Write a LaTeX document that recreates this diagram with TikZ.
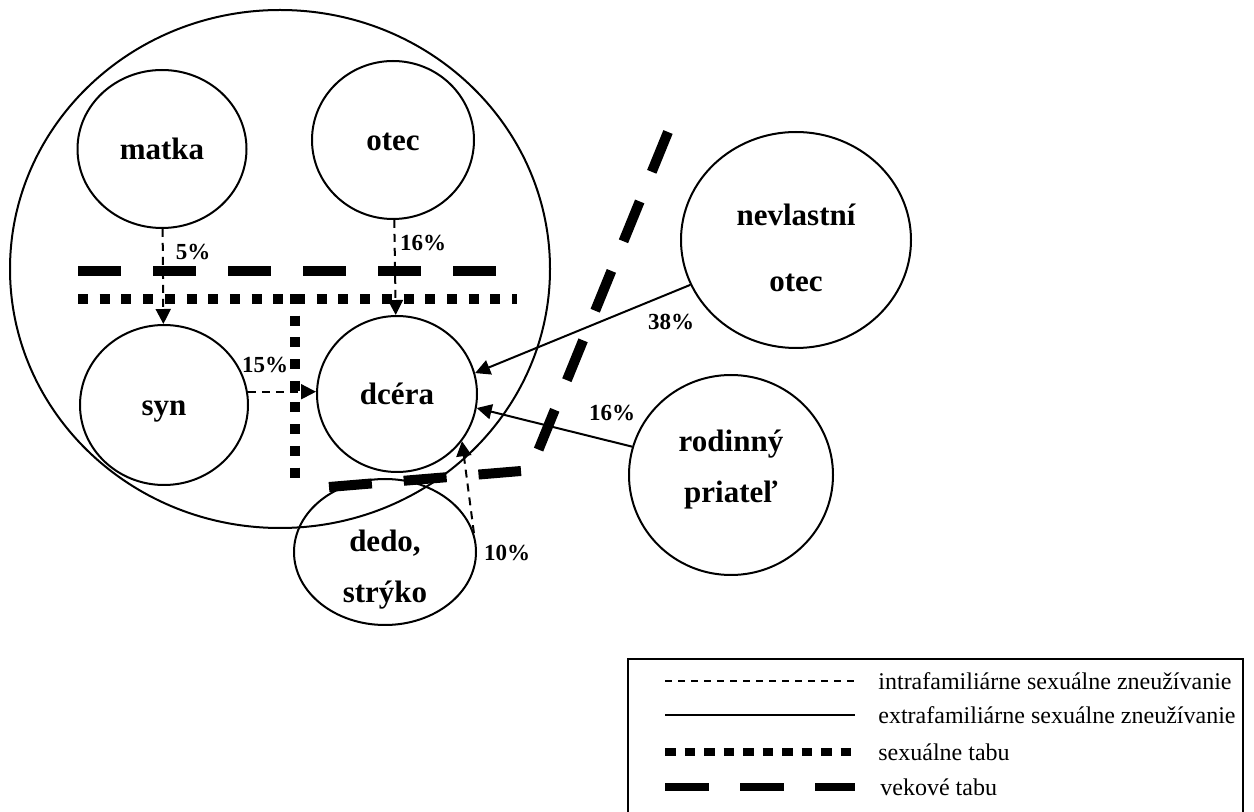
\documentclass[tikz,border=0pt]{standalone}
\usepackage{fontspec}
\setmainfont{Liberation Serif}
\usetikzlibrary{shapes.geometric,arrows.meta}

\tikzset{
  osoba/.style={draw, ellipse, line width=1pt, inner sep=0pt,
    font=\fontsize{15.5}{18}\selectfont\bfseries, text height=10.5pt, text depth=0pt},
  meno/.style={anchor=base, inner sep=0pt, font=\fontsize{15.5}{18}\selectfont\bfseries},
  pct/.style={inner sep=0pt, font=\fontsize{11.5}{13}\selectfont\bfseries},
  intra/.style={line width=1pt, dash pattern=on 4pt off 3pt, -{Triangle[length=7.5pt,width=7.5pt]}},
  extra/.style={line width=1pt, -{Triangle[length=7.5pt,width=7.5pt]}},
  sextabu/.style={line width=4.75pt, dash pattern=on 5pt off 5.85pt},
  vektabu/.style={line width=5pt, dash pattern=on 21.5pt off 16pt},
  legtext/.style={anchor=west, inner sep=0pt, font=\fontsize{12}{14}\selectfont}
}

\begin{document}
\begin{tikzpicture}[x=0.5pt,y=-0.5pt]
  \useasboundingbox (0,0) rectangle (1254,812);

  % rodina
  \node[draw, ellipse, line width=1pt, minimum width=270pt, minimum height=259pt] (rodina) at (280,269) {};

  % osoby
  \node[osoba, minimum width=84.5pt, minimum height=79pt] (matka) at (162,149) {matka};
  \node[osoba, minimum width=81pt, minimum height=79pt] (otec) at (393,140) {otec};
  \node[osoba, minimum width=84pt, minimum height=80pt] (syn) at (164,405) {syn};
  \node[osoba, minimum width=80pt, minimum height=78pt] (dcera) at (397,394) {dcéra};
  \node[osoba, minimum width=91pt, minimum height=73pt] (dedo) at (385,552) {};
  \node[meno] (dedo1) at (385,552) {dedo,};
  \node[meno] (dedo2) at (385,603) {strýko};
  \node[osoba, minimum width=115pt, minimum height=108pt] (nevl) at (796,240) {};
  \node[meno] (nevl1) at (796,226) {nevlastní};
  \node[meno] (nevl2) at (796,292) {otec};
  \node[osoba, minimum width=102pt, minimum height=100pt] (rod) at (731,475) {};
  \node[meno] (rod1) at (731,452) {rodinný};
  \node[meno] (rod2) at (731,503) {priateľ};

  % zneuzivanie
  \draw[intra] (matka) -- (syn);
  \draw[intra] (otec) -- (dcera);
  \draw[intra] (syn.9) -- (syn.9 -| dcera.west);
  \draw[intra] (dedo.12) -- (dcera.324);
  \draw[extra] (nevl.203) -- (dcera.15);
  \draw[extra] (rod.164) -- (dcera.350);

  \node[pct] (p5) at (193,252) {5\%};
  \node[pct] (p16a) at (423,243) {16\%};
  \node[pct] (p15) at (265,365) {15\%};
  \node[pct] (p38) at (671,322) {38\%};
  \node[pct] (p16b) at (612,413) {16\%};
  \node[pct] (p10) at (507,553) {10\%};

  % tabu
  \draw[vektabu] (78,271) -- (496,271);
  \draw[vektabu] (329,487) -- (521,471);
  \draw[vektabu] (668,132) -- (538,451);
  \draw[sextabu] (78,299) -- (517,299);
  \draw[sextabu] (295,294) -- (295,481);

  % legenda
  \draw[line width=1pt] (628,812) -- (628,659) -- (1243,659) -- (1243,812);
  \draw[line width=1pt, dash pattern=on 3.5pt off 3pt] (665,681) -- (855,681);
  \draw[line width=1pt] (665,715) -- (855,715);
  \draw[line width=4pt, dash pattern=on 5.25pt off 4.5pt] (665,752) -- (855,752);
  \draw[line width=4pt, dash pattern=on 22pt off 15.5pt] (665,787) -- (855,787);
  \node[legtext] (l1) at (878,681) {intrafamiliárne sexuálne zneužívanie};
  \node[legtext] (l2) at (878,715) {extrafamiliárne sexuálne zneužívanie};
  \node[legtext] (l3) at (878,752) {sexuálne tabu};
  \node[legtext] (l4) at (880,787) {vekové tabu};
\end{tikzpicture}
\end{document}
